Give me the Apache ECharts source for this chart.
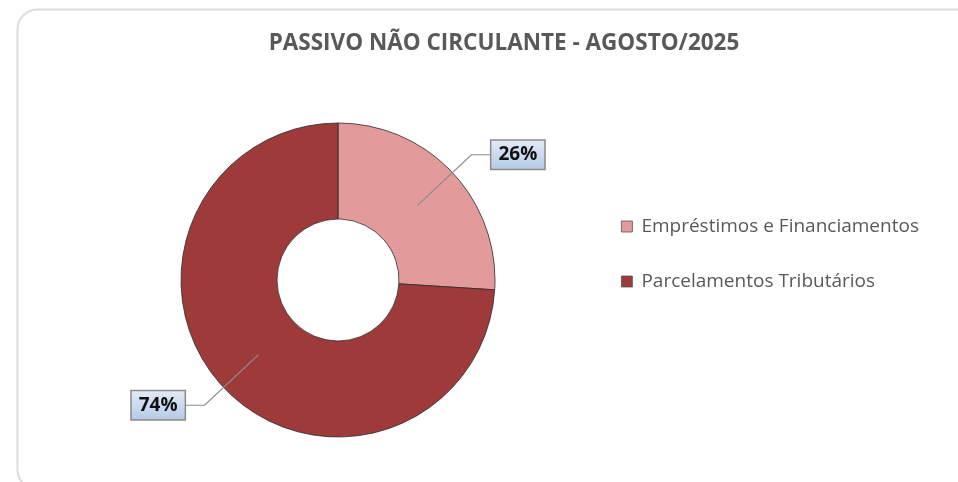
<!DOCTYPE html>
<html><head><meta charset="utf-8">
<script src="https://cdn.jsdelivr.net/npm/echarts@6/dist/echarts.min.js"></script>
<style>html,body{margin:0;padding:0;background:#fff}#c{width:958px;height:482px}</style>
</head><body><div id="c"></div>
<script>
const titleText = 'PASSIVO NÃO CIRCULANTE - AGOSTO/2025';
const categories = ['Empréstimos e Financiamentos', 'Parcelamentos Tributários'];
const values = [26, 74];
const colors = ['#e39a9a', '#9e3b3a'];

const chart = echarts.init(document.getElementById('c'));
const data = categories.map((n, i) => ({ name: n, value: values[i], itemStyle: { color: colors[i] } }));
const labelData = categories.map((n, i) => ({ name: n, value: values[i] }));

chart.setOption({
  backgroundColor: '#fff',
  animation: false,
  graphic: [{
    type: 'rect', left: 15, top: 7, silent: true, z: -1,
    shape: { width: 980, height: 480, r: 20 },
    style: { fill: 'none', stroke: '#dcdcdc', lineWidth: 2 }
  }],
  title: {
    text: titleText, left: 499, top: 27, textAlign: 'center',
    textStyle: { fontFamily: 'Open Sans', fontWeight: 'bold', fontSize: 22.5, color: '#595959' }
  },
  legend: {
    orient: 'vertical', left: 616, top: 212, itemGap: 36, itemWidth: 11, itemHeight: 11, icon: 'rect',
    data: categories,
    itemStyle: { borderColor: '#555', borderWidth: 0.8 },
    textStyle: { fontFamily: 'Open Sans', fontSize: 19, color: '#595959', padding: [0, 0, 0, 4] }
  },
  series: [{
    type: 'pie', center: [338, 280], radius: [61, 157], startAngle: 90, clockwise: true, z: 2,
    data: data, label: { show: false }, labelLine: { show: false },
    itemStyle: { borderColor: '#2a2a2a', borderWidth: 0.8 },
    emphasis: { disabled: true }
  }, {
    type: 'pie', center: [338, 280], radius: [0, 109], startAngle: 90, clockwise: true, silent: true, z: 6,
    data: labelData, itemStyle: { color: 'rgba(0,0,0,0)' },
    emphasis: { disabled: true },
    label: {
      show: true, position: 'outside', distanceToLabelLine: 0,
      formatter: p => p.value + '%',
      fontFamily: 'Open Sans', fontWeight: 'bold', fontSize: 19, color: '#111',
      padding: [5, 7, 4, 7],
      borderColor: '#8a8a8a', borderWidth: 1.5,
      backgroundColor: new echarts.graphic.LinearGradient(0, 0, 0, 1, [
        { offset: 0, color: '#e4ecf6' }, { offset: 1, color: '#b4c9e6' }
      ])
    },
    labelLine: { show: true, length: 74, length2: 20, lineStyle: { color: '#8c8c8c', width: 1.2 } }
  }]
});
</script></body></html>
